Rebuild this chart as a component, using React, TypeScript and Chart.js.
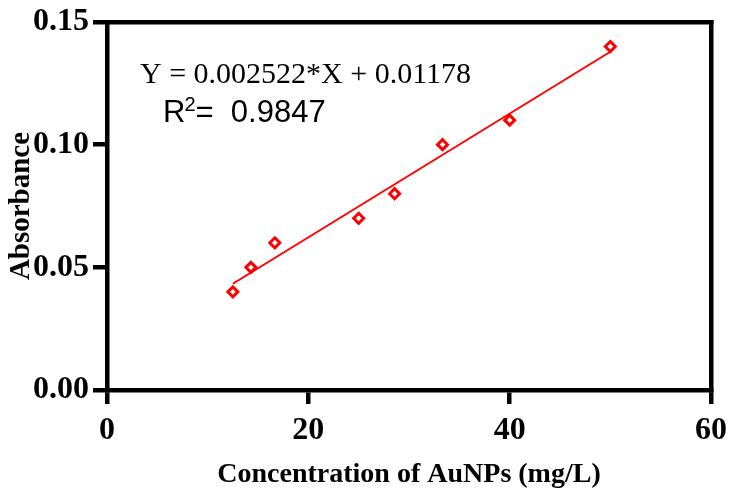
import React, { useEffect, useRef } from "react";
import { Chart, registerables } from "chart.js";

Chart.register(...registerables);

// ---- data ----
const concentrations = [12.5, 14.29, 16.67, 25, 28.57, 33.33, 40, 50];
const absorbances = [0.04, 0.05, 0.06, 0.07, 0.08, 0.1, 0.11, 0.14];
const fitX = [12.5, 50];
const fitY = [0.04331, 0.13788];
const xTicks = [0, 20, 40, 60];
const yTicks = [0, 0.05, 0.1, 0.15];
const equationText = "Y = 0.002522*X + 0.01178";
const r2Label = "R";
const r2Sup = "2";
const r2Value = "=  0.9847";
const xTitle = "Concentration of AuNPs (mg/L)";
const yTitle = "Absorbance";

const SERIF = "'Liberation Serif', 'Times New Roman', serif";
const SANS = "'Liberation Sans', Arial, sans-serif";

const textPlugin = {
  id: "equationText",
  afterDraw(chart: any) {
    const { ctx, chartArea } = chart;
    const L = chartArea.left;
    const T = chartArea.top;
    ctx.save();
    ctx.fillStyle = "#000";
    ctx.textBaseline = "alphabetic";
    ctx.textAlign = "left";
    ctx.font = `30px ${SERIF}`;
    ctx.fillText(equationText, L + 33, T + 61);
    let x = L + 56;
    const y = T + 100;
    ctx.font = `31px ${SANS}`;
    ctx.fillText(r2Label, x, y);
    x += ctx.measureText(r2Label).width;
    ctx.font = `20px ${SANS}`;
    ctx.fillText(r2Sup, x - 1, y - 11);
    x += ctx.measureText(r2Sup).width - 1;
    ctx.font = `31px ${SANS}`;
    ctx.fillText(r2Value, x, y);
    ctx.restore();
  },
};

export default function App() {
  const ref = useRef<HTMLCanvasElement | null>(null);

  useEffect(() => {
    if (!ref.current) return;
    const axisCommon = {
      grid: {
        display: true,
        drawOnChartArea: false,
        drawTicks: true,
        tickLength: 14,
        tickWidth: 4.5,
        tickColor: "#000",
        lineWidth: 4.5,
        color: "#000",
      },
      border: { display: true, width: 4.5, color: "#000" },
    };
    const hiddenAxis = {
      ticks: { display: false },
      grid: { display: true, drawOnChartArea: false, drawTicks: false, lineWidth: 4.5, color: "#000" },
      border: { display: true, width: 4.5, color: "#000" },
    };
    const chart = new Chart(ref.current, {
      type: "scatter",
      data: {
        datasets: [
          {
            label: "Data",
            data: concentrations.map((c, i) => ({ x: c, y: absorbances[i] })),
            showLine: false,
            pointStyle: "rectRot",
            pointRadius: 5,
            pointBorderWidth: 3,
            borderColor: "#ff0000",
            backgroundColor: "#ffffff",
          },
          {
            type: "line",
            label: "Fit",
            data: fitX.map((c, i) => ({ x: c, y: fitY[i] })),
            borderColor: "#ff0000",
            borderWidth: 2,
            pointRadius: 0,
            fill: false,
          } as any,
        ],
      },
      options: {
        animation: false,
        responsive: false,
        layout: { padding: { left: 0, top: 22, right: 19, bottom: 0 } },
        plugins: { legend: { display: false }, tooltip: { enabled: false } },
        scales: {
          x: {
            type: "linear",
            position: "bottom",
            min: 0,
            max: 60,
            ...axisCommon,
            afterBuildTicks: (s: any) => {
              s.ticks = xTicks.map((v) => ({ value: v }));
            },
            afterFit: (s: any) => {
              s.height = 99;
              s.paddingLeft = 0;
              s.paddingRight = 0;
            },
            ticks: {
              color: "#000",
              padding: 8,
              font: { family: SERIF, size: 32, weight: "bold" },
              callback: (v: any) => String(v),
            },
            title: {
              display: true,
              text: xTitle,
              color: "#000",
              padding: { top: 0, bottom: -3 },
              font: { family: SERIF, size: 28, weight: "bold" },
            },
          },
          y: {
            type: "linear",
            position: "left",
            min: 0,
            max: 0.15,
            ...axisCommon,
            afterBuildTicks: (s: any) => {
              s.ticks = yTicks.map((v) => ({ value: v }));
            },
            afterFit: (s: any) => {
              s.width = 107;
              s.paddingTop = 0;
              s.paddingBottom = 0;
            },
            ticks: {
              color: "#000",
              padding: 4,
              font: { family: SERIF, size: 32, weight: "bold" },
              callback: (v: any) => Number(v).toFixed(2),
            },
            title: {
              display: true,
              text: yTitle,
              color: "#000",
              padding: { top: 4, bottom: 0 },
              font: { family: SERIF, size: 29, weight: "bold" },
            },
          },
          x2: {
            type: "linear",
            position: "top",
            min: 0,
            max: 60,
            ...hiddenAxis,
          },
          y2: {
            type: "linear",
            position: "right",
            min: 0,
            max: 0.15,
            ...hiddenAxis,
          },
        } as any,
      },
      plugins: [textPlugin],
    });
    return () => chart.destroy();
  }, []);

  return (
    <div style={{ position: "fixed", left: 0, top: 0, width: 730, height: 489, background: "#fff" }}>
      <canvas ref={ref} width={730} height={489} style={{ display: "block" }} />
    </div>
  );
}
